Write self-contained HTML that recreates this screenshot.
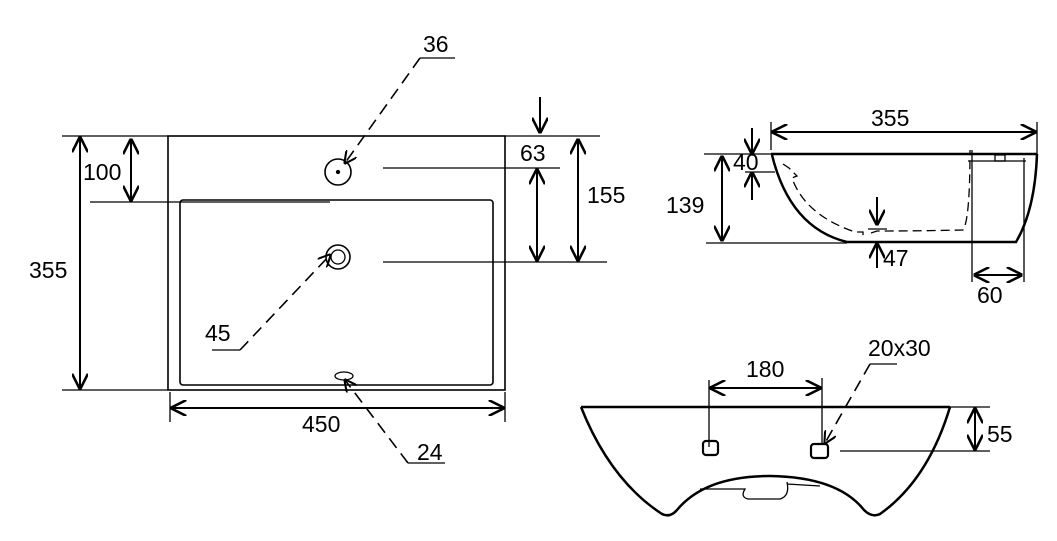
<!DOCTYPE html>
<html><head><style>body{margin:0;background:#fff}svg{display:block}text{font-family:"Liberation Sans",Arial,sans-serif;font-size:23px;fill:#000}</style></head><body>
<svg width="1057" height="541" viewBox="0 0 1057 541" xmlns="http://www.w3.org/2000/svg">
<defs><marker id="a" viewBox="0 0 10 10" refX="9" refY="5" markerWidth="8" markerHeight="8" orient="auto-start-reverse"><path d="M0,0 L10,5 L0,10" fill="none" stroke="#000" stroke-width="1.6"/></marker></defs>
<g stroke="#000" fill="none" stroke-width="1.3">
<rect x="168" y="136" width="337" height="254" stroke-width="1.6"/>
<rect x="180" y="200" width="313" height="185" rx="3" stroke-width="1.6"/>
<line x1="90" y1="202" x2="330" y2="202"/>
<line x1="62" y1="136" x2="168" y2="136"/><line x1="62" y1="390" x2="168" y2="390"/>
<line x1="80" y1="138" x2="80" y2="388" stroke-width="2" marker-start="url(#a)" marker-end="url(#a)"/>
<line x1="131" y1="140" x2="131" y2="200" stroke-width="2" marker-start="url(#a)" marker-end="url(#a)"/>
<line x1="505" y1="136" x2="600" y2="136"/>
<line x1="540" y1="97" x2="540" y2="132" stroke-width="2" marker-end="url(#a)"/>
<line x1="537" y1="170" x2="537" y2="260" stroke-width="2" marker-start="url(#a)" marker-end="url(#a)"/>
<line x1="383" y1="168" x2="560" y2="168"/><line x1="383" y1="262" x2="607" y2="262"/>
<line x1="578" y1="140" x2="578" y2="260" stroke-width="2" marker-start="url(#a)" marker-end="url(#a)"/>
<circle cx="338" cy="172" r="13" stroke-width="1.6"/><circle cx="338" cy="172" r="1.5" fill="#000"/>
<circle cx="338" cy="257" r="12" stroke-width="1.6"/><circle cx="338" cy="257" r="7"/>
<ellipse cx="344" cy="376" rx="9" ry="4"/>
<line x1="170" y1="392" x2="170" y2="422"/><line x1="505" y1="392" x2="505" y2="422"/>
<line x1="172" y1="408" x2="503" y2="408" stroke-width="2" marker-start="url(#a)" marker-end="url(#a)"/>
<line x1="420" y1="58" x2="455" y2="58"/>
<line x1="420" y1="58" x2="345" y2="163" stroke-dasharray="12,7" stroke-width="1.6" marker-end="url(#a)"/>
<line x1="212" y1="350" x2="240" y2="350"/>
<line x1="240" y1="350" x2="330" y2="255" stroke-dasharray="12,7" stroke-width="1.6" marker-end="url(#a)"/>
<line x1="408" y1="463" x2="445" y2="463"/>
<line x1="408" y1="463" x2="345" y2="380" stroke-dasharray="12,7" stroke-width="1.6" marker-end="url(#a)"/>
<line x1="771" y1="154" x2="1037" y2="154" stroke-width="2.5"/>
<line x1="704" y1="154" x2="771" y2="154"/>
<line x1="771" y1="122" x2="771" y2="150"/><line x1="1037" y1="122" x2="1037" y2="155"/>
<line x1="773" y1="132" x2="1035" y2="132" stroke-width="2" marker-start="url(#a)" marker-end="url(#a)"/>
<path d="M772,155 Q790,228 847,242 L1016,242 Q1035,210 1037,154" stroke-width="2.5"/>
<line x1="706" y1="243" x2="847" y2="243"/>
<line x1="722" y1="157" x2="722" y2="240" stroke-width="2" marker-start="url(#a)" marker-end="url(#a)"/>
<line x1="752" y1="128" x2="752" y2="153" stroke-width="2" marker-end="url(#a)"/>
<line x1="752" y1="200" x2="752" y2="173" stroke-width="2" marker-end="url(#a)"/>
<line x1="745" y1="172" x2="775" y2="172"/>
<path d="M783,164 L789,168 L797,176 L792,178 Q805,215 855,232 L863,232 L863,237 M871,233 L877,231 Q920,231 963,230 Q970,220 970,150" stroke-dasharray="9,5"/>
<line x1="877" y1="197" x2="877" y2="224" stroke-width="2" marker-end="url(#a)"/>
<line x1="868" y1="229" x2="887" y2="229"/>
<line x1="877" y1="268" x2="877" y2="244" stroke-width="2" marker-end="url(#a)"/>
<line x1="972" y1="150" x2="972" y2="282"/><line x1="1024" y1="158" x2="1024" y2="282"/>
<line x1="975" y1="275" x2="1021" y2="275" stroke-width="2" marker-start="url(#a)" marker-end="url(#a)"/>
<line x1="968" y1="161" x2="1026" y2="161"/>
<rect x="995" y="155" width="10" height="6"/>
<line x1="581" y1="407" x2="950" y2="407" stroke-width="2.5"/>
<path d="M581,407 Q610,480 662,514 Q670,518 677,510 Q705,476 770,476 Q838,477 864,510 Q872,518 880,514 Q928,480 950,407" stroke-width="2.5"/>
<path d="M700,489 L745,489 Q740,497 748,499 L780,499 Q790,496 787,482 M787,484 L820,486"/>
<line x1="709" y1="380" x2="709" y2="447"/><line x1="822" y1="378" x2="822" y2="445"/>
<line x1="711" y1="388" x2="820" y2="388" stroke-width="2" marker-start="url(#a)" marker-end="url(#a)"/>
<rect x="703" y="441" width="15" height="14" rx="3" stroke-width="2.2"/>
<rect x="811" y="444" width="17" height="14" rx="3" stroke-width="2.2"/>
<line x1="870" y1="364" x2="897" y2="364"/>
<line x1="870" y1="364" x2="825" y2="443" stroke-dasharray="12,7" stroke-width="1.6" marker-end="url(#a)"/>
<line x1="950" y1="407" x2="990" y2="407"/><line x1="840" y1="451" x2="990" y2="451"/>
<line x1="975" y1="409" x2="975" y2="449" stroke-width="2" marker-start="url(#a)" marker-end="url(#a)"/>
</g>
<text x="29" y="278">355</text><text x="83" y="180">100</text>
<text x="520" y="161">63</text><text x="587" y="203">155</text>
<text x="423" y="52">36</text><text x="205" y="341">45</text><text x="417" y="460">24</text>
<text x="302" y="432">450</text>
<text x="871" y="126">355</text><text x="666" y="213">139</text><text x="733" y="170">40</text>
<text x="883" y="266">47</text><text x="977" y="303">60</text>
<text x="746" y="377">180</text><text x="868" y="356">20x30</text><text x="987" y="442">55</text>
</svg>
</body></html>
